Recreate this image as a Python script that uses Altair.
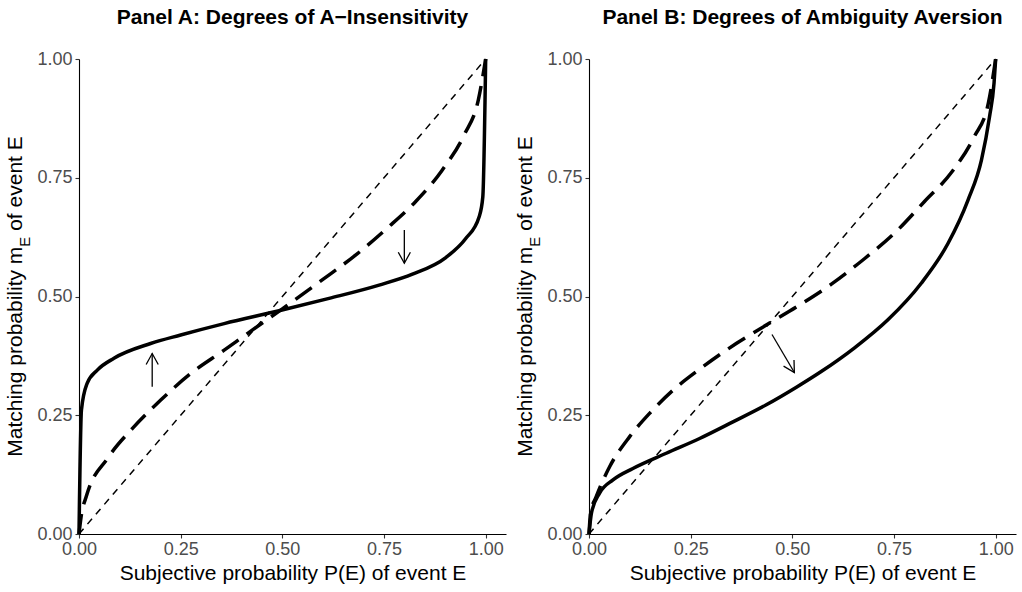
import math
import altair as alt
import pandas as pd

FONT = "Liberation Sans"

# ---------------- data ----------------
ticks = [0.0, 0.25, 0.5, 0.75, 1.0]
diag_p = [0.0, 1.0]
diag_m = [0.0, 1.0]

a_solid_p = [0.0, 0.006, 0.020, 0.045, 0.086, 0.176, 0.250, 0.357, 0.492, 0.615,
             0.738, 0.820, 0.902, 0.951, 0.984, 0.993, 1.0]
a_solid_m = [0.0, 0.261, 0.317, 0.345, 0.370, 0.401, 0.419, 0.443, 0.470, 0.496,
             0.524, 0.547, 0.582, 0.622, 0.668, 0.710, 1.0]

a_dash_p = [0.0, 0.005, 0.019, 0.070, 0.131, 0.201, 0.275, 0.357, 0.414, 0.500,
            0.598, 0.680, 0.758, 0.828, 0.893, 0.947, 0.982, 1.0]
a_dash_m = [0.0, 0.035, 0.082, 0.159, 0.222, 0.282, 0.338, 0.387, 0.422, 0.474,
            0.535, 0.587, 0.644, 0.700, 0.766, 0.840, 0.914, 1.0]

b_solid_p = [0.0, 0.006, 0.026, 0.059, 0.108, 0.190, 0.272, 0.354, 0.436, 0.510,
             0.571, 0.653, 0.735, 0.817, 0.883, 0.932, 0.965, 0.985, 0.996, 1.0]
b_solid_m = [0.0, 0.044, 0.086, 0.114, 0.138, 0.170, 0.201, 0.236, 0.272, 0.309,
             0.342, 0.392, 0.451, 0.528, 0.612, 0.703, 0.787, 0.879, 0.949, 1.0]

b_dash_p = [0.0, 0.004, 0.018, 0.051, 0.100, 0.149, 0.207, 0.280, 0.362, 0.444,
            0.510, 0.596, 0.678, 0.752, 0.825, 0.893, 0.947, 0.982, 1.0]
b_dash_m = [0.0, 0.045, 0.079, 0.142, 0.205, 0.254, 0.303, 0.352, 0.401, 0.444,
            0.478, 0.526, 0.580, 0.634, 0.700, 0.763, 0.836, 0.907, 1.0]

# arrows: start p, start m, end p, end m
a_arrow_p0 = [0.18, 0.80]
a_arrow_m0 = [0.31, 0.64]
a_arrow_p1 = [0.18, 0.80]
a_arrow_m1 = [0.38, 0.57]

b_arrow_p0 = [0.45]
b_arrow_m0 = [0.42]
b_arrow_p1 = [0.505]
b_arrow_m1 = [0.34]

title_a = "Panel A: Degrees of A\u2212Insensitivity"
title_b = "Panel B: Degrees of Ambiguity Aversion"
x_title = "Subjective probability P(E) of event E"
y_title_main = "Matching probability m"
y_title_sub = "E"
y_title_rest = "of event E"

# ---------------- layout ----------------
W, H = 427, 475
XMAX = 1.05
TITLE_FS = 21
SUB_FS = 15

ARIAL = {'M': 833, 'a': 556, 't': 278, 'c': 500, 'h': 556, 'i': 222, 'n': 556,
         'g': 556, ' ': 278, 'p': 556, 'r': 333, 'o': 556, 'b': 556, 'l': 222,
         'y': 500, 'm': 833, 'E': 667, 'f': 278, 'e': 556, 'v': 500}


def text_w(s, fs):
    return sum(ARIAL.get(ch, 556) for ch in s) * fs / 1000.0


w_main = text_w(y_title_main, TITLE_FS)
w_sub = text_w(y_title_sub, SUB_FS)
w_space = text_w(" ", TITLE_FS)
w_rest = text_w(y_title_rest, TITLE_FS)
total = w_main + w_sub + w_space + w_rest
y_bottom = H / 2 + total / 2
y_join = y_bottom - w_main
y_rest = y_join - w_sub - w_space
X_TITLE = -57

ARROW_PATH = "M -0.55 1 L 0 0 L 0.55 1"


def lines_df(p, m):
    return pd.DataFrame({"p": p, "m": m})


def arrows_df(p0, m0, p1, m1):
    ang = []
    for a, b, c, d in zip(p0, m0, p1, m1):
        dx = (c - a) * W / XMAX
        dy = (d - b) * H
        ang.append((math.degrees(math.atan2(dx, dy)) + 360) % 360)
    return pd.DataFrame({"p": p0, "m": m0, "p1": p1, "m1": m1, "ang": ang})


def panel(title, sp, sm, dp, dm, arr):
    xenc = alt.X("p:Q", scale=alt.Scale(domain=[0, XMAX], nice=False, zero=False),
                 axis=alt.Axis(values=ticks, format=".2f", title=x_title))
    yenc = alt.Y("m:Q", scale=alt.Scale(domain=[0, 1], nice=False),
                 axis=alt.Axis(values=ticks, format=".2f", title=None))

    diag = alt.Chart(lines_df(diag_p, diag_m)).mark_line(
        color="black", strokeWidth=1.5, strokeDash=[7, 6]
    ).encode(x=xenc, y=yenc)
    dash = alt.Chart(lines_df(dp, dm)).mark_line(
        color="black", strokeWidth=3.5, strokeDash=[20, 10], interpolate="monotone"
    ).encode(x=xenc, y=yenc)
    solid = alt.Chart(lines_df(sp, sm)).mark_line(
        color="black", strokeWidth=3.5, interpolate="monotone"
    ).encode(x=xenc, y=yenc)
    shaft = alt.Chart(arr).mark_rule(color="black", strokeWidth=1.3).encode(
        x=xenc, y=yenc, x2="p1:Q", y2="m1:Q")
    head = alt.Chart(arr).mark_point(
        shape=ARROW_PATH, filled=False, size=484, strokeWidth=1.3,
        color="black", opacity=1
    ).encode(x=alt.X("p1:Q"), y=alt.Y("m1:Q"), angle=alt.Angle("ang:Q", scale=None))

    one = pd.DataFrame({"k": [0]})
    t1 = alt.Chart(one).mark_text(
        text=y_title_main, font=FONT, fontSize=TITLE_FS, angle=270, align="right",
        baseline="alphabetic", color="black"
    ).encode(x=alt.value(X_TITLE), y=alt.value(y_join))
    t2 = alt.Chart(one).mark_text(
        text=y_title_sub, font=FONT, fontSize=SUB_FS, angle=270, align="left",
        baseline="alphabetic", color="black"
    ).encode(x=alt.value(X_TITLE + 8), y=alt.value(y_join))
    t3 = alt.Chart(one).mark_text(
        text=y_title_rest, font=FONT, fontSize=TITLE_FS, angle=270, align="left",
        baseline="alphabetic", color="black"
    ).encode(x=alt.value(X_TITLE), y=alt.value(y_rest))

    return alt.layer(diag, dash, solid, shaft, head, t1, t2, t3).properties(
        width=W, height=H,
        title=alt.TitleParams(text=title, anchor="middle", frame="group",
                              fontSize=TITLE_FS, fontWeight="bold", font=FONT,
                              color="black", offset=22),
    )


pa = panel(title_a, a_solid_p, a_solid_m, a_dash_p, a_dash_m,
           arrows_df(a_arrow_p0, a_arrow_m0, a_arrow_p1, a_arrow_m1))
pb = panel(title_b, b_solid_p, b_solid_m, b_dash_p, b_dash_m,
           arrows_df(b_arrow_p0, b_arrow_m0, b_arrow_p1, b_arrow_m1))

chart = alt.hconcat(pa, pb, spacing=9).properties(
    padding={"left": 5, "top": 7, "right": 5, "bottom": 5}
).configure_view(strokeWidth=0).configure_axis(
    grid=False, domainColor="black", domainWidth=1.1, tickColor="#333333",
    tickSize=4, tickWidth=1.1, labelFont=FONT, labelFontSize=18,
    labelColor="#4D4D4D", labelPadding=2, labelFlush=False, labelOverlap=False,
    titleFont=FONT, titleFontSize=TITLE_FS, titleFontWeight="normal",
    titleColor="black", titlePadding=4,
).configure_axisY(labelPadding=3)

chart.save("out.html", embed_options={"renderer": "svg", "actions": False})
